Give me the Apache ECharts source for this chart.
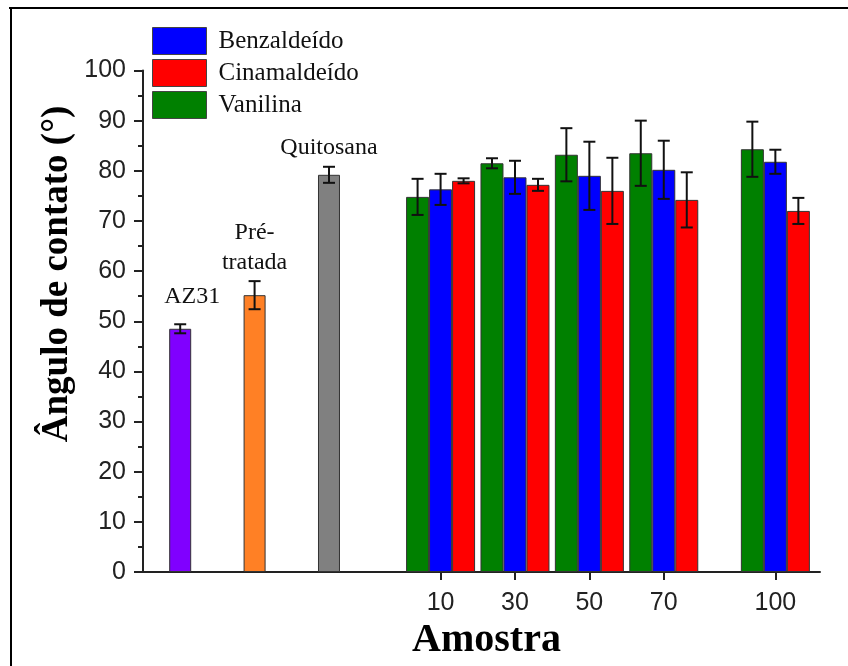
<!DOCTYPE html>
<html>
<head>
<meta charset="utf-8">
<title>Ângulo de contato</title>
<script src="https://cdn.jsdelivr.net/npm/echarts@6/dist/echarts.min.js"></script>
<style>
  html, body { margin: 0; padding: 0; background: #fff; }
  #chart { width: 848px; height: 666px; }
</style>
</head>
<body>
<div id="chart"></div>
<script>
// Reference samples (single bars) placed left of the concentration groups
const singleLabels = ['AZ31', 'Pré-\ntratada', 'Quitosana'];
const singlePos = [-60, -40, -20];
const singleValues = [48.5, 55.2, 79.2];
const singleErr = [0.9, 2.8, 1.6];
const singleColors = ['#8000ff', '#ff8025', '#808080'];

// Concentration groups
const concentrations = [10, 30, 50, 70, 100];
const vanilina = [74.8, 81.5, 83.2, 83.5, 84.3];
const vanilinaErr = [3.6, 1.0, 5.3, 6.5, 5.5];
const benzaldeido = [76.3, 78.7, 79.0, 80.2, 81.8];
const benzaldeidoErr = [3.1, 3.3, 6.8, 5.8, 2.4];
const cinamaldeido = [78.0, 77.2, 76.0, 74.2, 72.0];
const cinamaldeidoErr = [0.5, 1.2, 6.6, 5.5, 2.6];

const yTicks = [0, 100, 10];

const BAR_W = 23;
const SINGLE_W = 22;
const serif = '"Liberation Serif", "Times New Roman", serif';
const sans = '"Liberation Sans", Arial, sans-serif';

const chart = echarts.init(document.getElementById('chart'));

function pairs(xs, ys) { return xs.map((x, i) => [x, ys[i]]); }

function errorSeries(xs, vals, errs, shiftPx, axisIdx) {
  return {
    type: 'custom',
    xAxisIndex: axisIdx,
    yAxisIndex: 0,
    z: 10,
    silent: true,
    data: xs.map((x, i) => [x, vals[i] - errs[i], vals[i] + errs[i]]),
    renderItem(params, api) {
      const lo = api.coord([api.value(0), api.value(1)]);
      const hi = api.coord([api.value(0), api.value(2)]);
      const x = lo[0] + shiftPx;
      const cap = 6;
      const st = { stroke: '#111', lineWidth: 2 };
      return {
        type: 'group',
        children: [
          { type: 'line', shape: { x1: x, y1: lo[1], x2: x, y2: hi[1] }, style: st },
          { type: 'line', shape: { x1: x - cap, y1: lo[1], x2: x + cap, y2: lo[1] }, style: st },
          { type: 'line', shape: { x1: x - cap, y1: hi[1], x2: x + cap, y2: hi[1] }, style: st }
        ]
      };
    }
  };
}

function groupBar(name, color, vals) {
  return {
    name: name,
    type: 'bar',
    xAxisIndex: 0,
    barWidth: BAR_W,
    barGap: '0%',
    itemStyle: { color: color, borderColor: '#333', borderWidth: 1 },
    data: pairs(concentrations, vals)
  };
}

const labelCfg = [
  { offset: [12, 0], distance: 17 },
  { offset: [0, 0], distance: 17 },
  { offset: [0, 0], distance: 12 }
];

const xCommon = {
  type: 'value',
  min: -70,
  max: 112,
  splitLine: { show: false }
};

const option = {
  animation: false,
  backgroundColor: '#fff',
  grid: { left: 143, right: 28, top: 70.5, bottom: 94 },
  legend: {
    orient: 'vertical',
    left: 152,
    top: 27,
    padding: 0,
    icon: 'rect',
    itemWidth: 54,
    itemHeight: 27,
    itemGap: 4,
    data: ['Benzaldeído', 'Cinamaldeído', 'Vanilina'],
    itemStyle: { borderColor: '#444', borderWidth: 1 },
    textStyle: { fontFamily: serif, fontSize: 25, color: '#111', padding: [0, 0, 0, 7] }
  },
  xAxis: [
    Object.assign({}, xCommon, {
      name: 'Amostra',
      nameLocation: 'middle',
      nameGap: 49,
      nameTextStyle: { fontFamily: serif, fontSize: 40, fontWeight: 'bold', color: '#000', padding: [0, 0, 0, 10] },
      axisLine: { show: true, onZero: false, lineStyle: { color: '#222', width: 2 } },
      axisTick: { show: true, customValues: concentrations, length: 8, lineStyle: { color: '#222', width: 2 } },
      axisLabel: { customValues: concentrations, margin: 19, fontFamily: sans, fontSize: 25, color: '#222' }
    }),
    Object.assign({}, xCommon, { show: false })
  ],
  yAxis: {
    type: 'value',
    min: yTicks[0],
    max: yTicks[1],
    interval: yTicks[2],
    splitLine: { show: false },
    axisLine: { show: true, onZero: false, lineStyle: { color: '#222', width: 2 } },
    axisTick: { show: true, length: 9, lineStyle: { color: '#222', width: 2 } },
    minorTick: { show: true, splitNumber: 2, length: 5, lineStyle: { color: '#222', width: 2 } },
    axisLabel: { margin: 17, fontFamily: sans, fontSize: 25, color: '#222' }
  },
  graphic: [
    {
      type: 'text',
      x: 57,
      y: 274,
      rotation: Math.PI / 2,
      style: {
        text: 'Ângulo de contato (°)',
        font: 'bold 37px ' + serif,
        fill: '#000',
        align: 'center',
        verticalAlign: 'middle'
      }
    },
    { type: 'line', shape: { x1: 9, y1: 8, x2: 848, y2: 8 }, style: { stroke: '#000', lineWidth: 2 } },
    { type: 'line', shape: { x1: 11, y1: 7, x2: 11, y2: 666 }, style: { stroke: '#000', lineWidth: 2 } }
  ],
  series: [
    {
      name: 'Amostras base',
      type: 'bar',
      xAxisIndex: 1,
      barWidth: SINGLE_W,
      data: singlePos.map((x, i) => ({
        value: [x, singleValues[i]],
        itemStyle: { color: singleColors[i], borderColor: '#333', borderWidth: 1 },
        label: {
          show: true,
          position: 'top',
          distance: labelCfg[i].distance,
          offset: labelCfg[i].offset,
          formatter: singleLabels[i],
          fontFamily: serif,
          fontSize: 24,
          lineHeight: 30,
          color: '#111'
        }
      }))
    },
    groupBar('Vanilina', '#008000', vanilina),
    groupBar('Benzaldeído', '#0000ff', benzaldeido),
    groupBar('Cinamaldeído', '#ff0000', cinamaldeido),
    errorSeries(singlePos, singleValues, singleErr, 0, 1),
    errorSeries(concentrations, vanilina, vanilinaErr, -BAR_W, 0),
    errorSeries(concentrations, benzaldeido, benzaldeidoErr, 0, 0),
    errorSeries(concentrations, cinamaldeido, cinamaldeidoErr, BAR_W, 0)
  ]
};

chart.setOption(option);
</script>
</body>
</html>
